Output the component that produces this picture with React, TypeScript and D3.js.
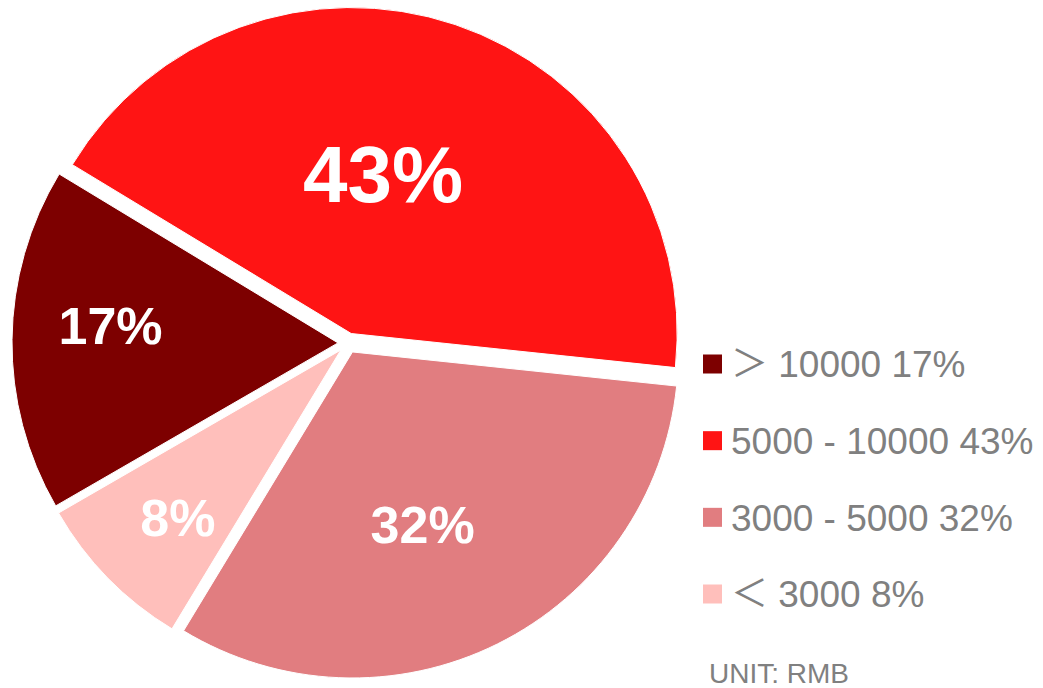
import React from "react";
import * as d3 from "d3";

const categories = ["＞ 10000", "5000 - 10000", "3000 - 5000", "＜ 3000"];
const values = [17, 43, 32, 8];
const colors = ["#7d0000", "#ff1414", "#e17d80", "#ffbfbb"];
const labelFontSizes = [52, 80, 52, 52];
// label placement: fraction of radius and angle nudge (degrees)
const labelRadiusFrac = [0.7, 0.5, 0.57, 0.716];
const labelAngleNudge = [3.9, -7.3, 4.2, -1.3];
const unitText = "UNIT: RMB";

const W = 1043;
const H = 688;
const cx = 348;
const cy = 343;
const R = 326;
const explode = 10;
const deg = Math.PI / 180;

export default function App() {
  const pie = d3
    .pie<number>()
    .sort(null)
    .value((d) => d)
    .startAngle(240 * deg)
    .endAngle(600 * deg);
  const arcs = pie(values);
  const arc = d3.arc<d3.PieArcDatum<number>>().innerRadius(0).outerRadius(R);

  const legendY = d3
    .scalePoint<number>()
    .domain(d3.range(categories.length))
    .range([364, 594]);

  const font = "'Liberation Sans', Arial, 'Noto Sans CJK SC', sans-serif";

  return (
    <svg
      width={W}
      height={H}
      style={{ position: "absolute", left: 0, top: 0 }}
      viewBox={`0 0 ${W} ${H}`}
    >
      <rect width={W} height={H} fill="#fff" />
      <g transform={`translate(${cx},${cy})`}>
        {arcs.map((a, i) => {
          const mid = (a.startAngle + a.endAngle) / 2;
          const ox = Math.sin(mid) * explode;
          const oy = -Math.cos(mid) * explode;
          return (
            <g key={i} transform={`translate(${ox},${oy})`}>
              <path d={arc(a) || ""} fill={colors[i]} stroke="#fff" strokeWidth={1} />
            </g>
          );
        })}
        {arcs.map((a, i) => {
          const mid = (a.startAngle + a.endAngle) / 2;
          const ox = Math.sin(mid) * explode;
          const oy = -Math.cos(mid) * explode;
          const ang = mid + labelAngleNudge[i] * deg;
          const rr = R * labelRadiusFrac[i];
          const x = ox + Math.sin(ang) * rr;
          const y = oy - Math.cos(ang) * rr;
          return (
            <text
              key={i}
              x={x}
              y={y}
              dy="0.36em"
              textAnchor="middle"
              fill="#fff"
              fontWeight="bold"
              fontFamily={font}
              fontSize={labelFontSizes[i]}
            >
              {values[i]}%
            </text>
          );
        })}
      </g>
      <g>
        {categories.map((c, i) => {
          const y = legendY(i) as number;
          return (
            <g key={i}>
              <rect x={703} y={y - 9.5} width={19} height={19} fill={colors[i]} />
              <text
                x={731}
                y={y}
                dy="0.36em"
                fill="#808080"
                fontFamily={font}
                fontSize={37}
              >
                {c} {values[i]}%
              </text>
            </g>
          );
        })}
        <text x={709} y={683} fill="#808080" fontFamily={font} fontSize={28}>
          {unitText}
        </text>
      </g>
    </svg>
  );
}
